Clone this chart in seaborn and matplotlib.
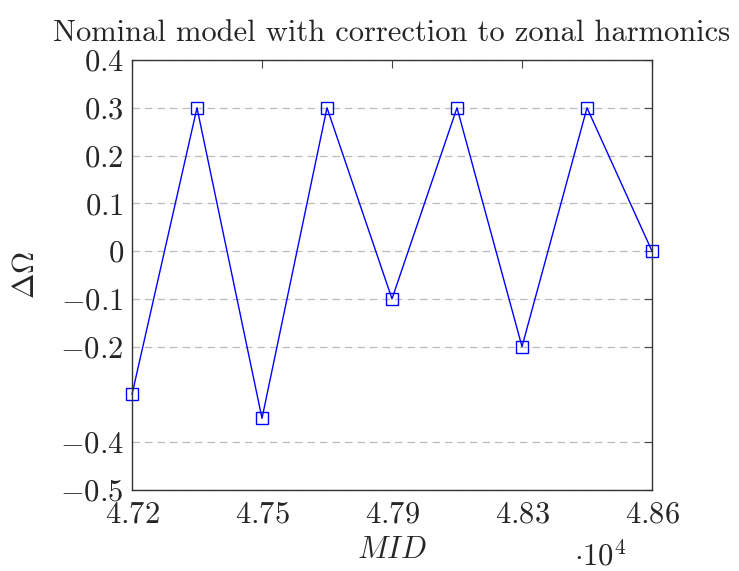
import matplotlib
matplotlib.use("Agg")
import matplotlib.pyplot as plt
import seaborn as sns
import pandas as pd

mid = [47200, 47375, 47550, 47725, 47900, 48075, 48250, 48425, 48600]
delta_omega = [-0.3, 0.3, -0.35, 0.3, -0.1, 0.3, -0.2, 0.3, 0.0]
xtick_pos = [47200, 47550, 47900, 48250, 48600]
xtick_labels = ["4.72", "4.75", "4.79", "4.83", "4.86"]
ytick_vals = [-0.5, -0.4, -0.2, -0.1, 0, 0.1, 0.2, 0.3, 0.4]
ytick_labels = [r"$-0.5$", r"$-0.4$", r"$-0.2$", r"$-0.1$", r"$0$", r"$0.1$", r"$0.2$", r"$0.3$", r"$0.4$"]

sns.set_style("white")
plt.rcParams["mathtext.fontset"] = "cm"
plt.rcParams["font.family"] = ["cmr10", "DejaVu Serif"]
plt.rcParams["axes.unicode_minus"] = True

df = pd.DataFrame({"MID": mid, "dO": delta_omega})

fig = plt.figure(figsize=(7.39, 5.71), dpi=100)
ax = fig.add_axes([132/739, 1-490/571, 520/739, 430/571])

sns.lineplot(data=df, x="MID", y="dO", ax=ax, color="#0000ff", linewidth=1.0,
             marker="s", markersize=8, markerfacecolor="none",
             markeredgecolor="#0000ff", markeredgewidth=1.0, clip_on=False)

ax.set_xlim(47200, 48600)
ax.set_ylim(-0.5, 0.4)
ax.set_xticks(xtick_pos)
ax.set_xticklabels([r"$%s$" % t for t in xtick_labels])
ax.set_yticks(ytick_vals)
ax.set_yticklabels(ytick_labels)
ax.tick_params(direction="in", length=6, width=0.8, color="#444444", labelsize=22,
               top=True, right=True)
ax.tick_params(axis="x", pad=8)
ax.tick_params(axis="y", pad=6)
for s in ax.spines.values():
    s.set_linewidth(1.0)
    s.set_color("#333333")
ax.yaxis.grid(True, linestyle=(0, (6, 4)), color="#bbbbbb", linewidth=0.9)
ax.xaxis.grid(False)
ax.set_axisbelow(True)

ax.set_xlabel(r"$MID$", fontsize=22, labelpad=6)
ax.set_ylabel(r"$\Delta\Omega$", fontsize=22, labelpad=14)
ax.set_title("Nominal model with correction to zonal harmonics", fontsize=22, pad=14)
fig.text(600/739, 1-556/571, r"$\cdot 10^4$", fontsize=22, ha="center", va="center")

fig.savefig("out.png", dpi=100)
